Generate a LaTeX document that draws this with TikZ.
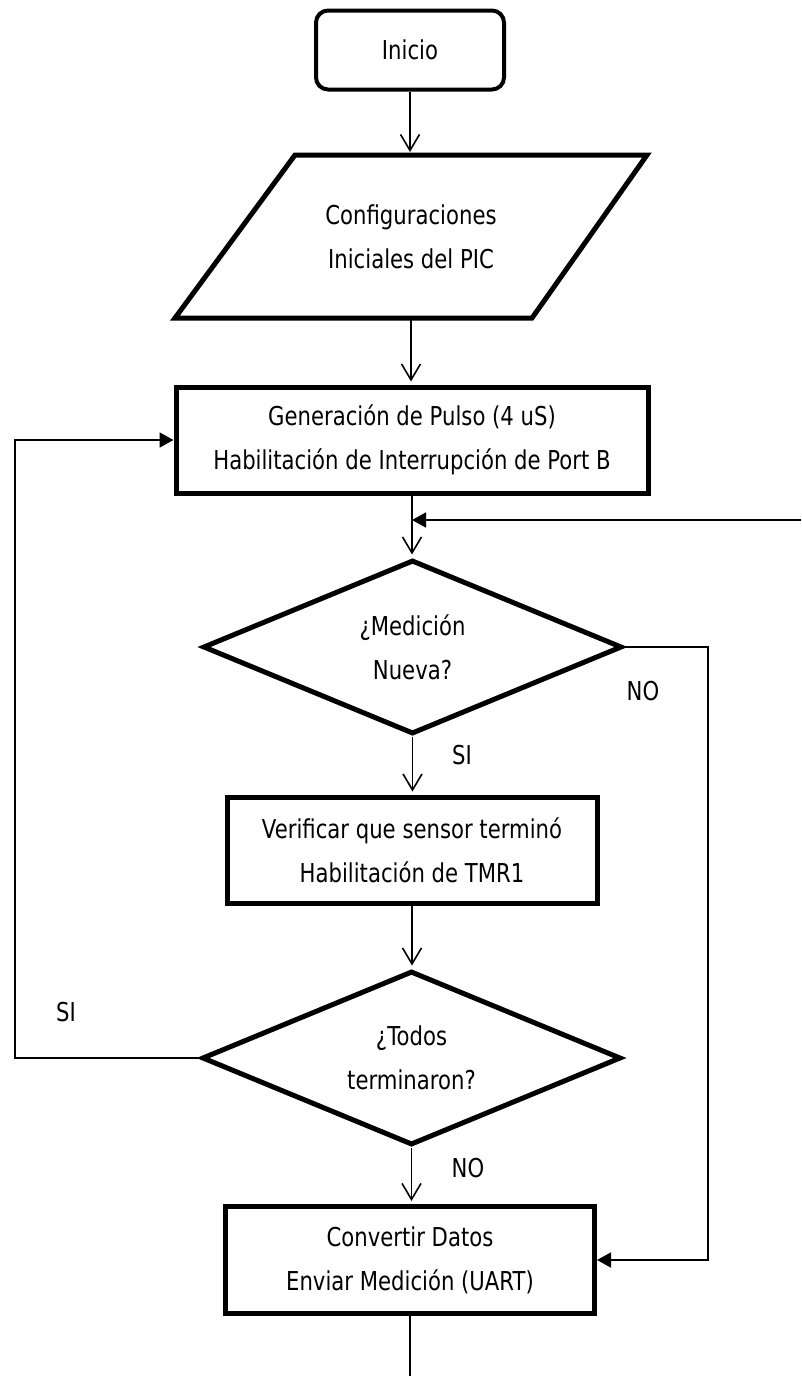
\documentclass[tikz,border=0pt]{standalone}
\usepackage{fontspec}
\setmainfont{DejaVu Sans}[FakeStretch=0.815]
\usetikzlibrary{shapes.geometric,arrows.meta}
\begin{document}
\begin{tikzpicture}[x=1pt,y=-1pt,
  txt/.style={font=\fontsize{26}{44}\selectfont, align=center, inner sep=0pt},
  startbox/.style={txt, draw, line width=4pt, rounded corners=12pt,
    minimum width=188pt, minimum height=79pt},
  procbox/.style={txt, draw, line width=5pt, rectangle, minimum height=106pt},
  ioline/.style={draw, line width=5pt, line join=miter},
  decision/.style={txt, draw, line width=5pt, diamond, aspect=2.4,
    minimum width=419pt, minimum height=174pt},
  flow/.style={line width=1.6pt, -{Straight Barb[length=16pt,width=19pt]}, shorten >=3pt},
  side/.style={line width=1.6pt, -{Triangle[length=14pt,width=15pt]}},
  wire/.style={line width=1.6pt},
  lbl/.style={font=\fontsize{26}{30}\selectfont, inner sep=0pt}]

  \useasboundingbox (0,0) rectangle (801,1376);

  % flowchart blocks
  \node[startbox] (ini) at (410,50) {Inicio};

  % input/output block: slanted outline around its text
  \node[txt] (conf) at (411,236.5) {Configuraciones\\Iniciales del PIC};
  \draw[ioline, shift={(conf.center)}]
    (-236,81.5) -- (-116,-81.5) -- (236,-81.5) -- (121,81.5) -- cycle;
  \coordinate (conftop) at (411,155);
  \coordinate (confbot) at (411,318);

  \node[procbox, minimum width=472pt] (gen) at (412,440)
    {Generación de Pulso (4 uS)\\Habilitación de Interrupción de Port B};
  \node[decision] (med) at (412.5,647) {¿Medición\\Nueva?};
  \node[procbox, minimum width=370pt] (ver) at (412,850)
    {Verificar que sensor terminó\\Habilitación de TMR1};
  \node[decision] (todos) at (411.5,1058) {¿Todos\\terminaron?};
  \node[procbox, minimum width=369pt, minimum height=107pt] (conv) at (410,1260)
    {Convertir Datos\\Enviar Medición (UART)};

  % branch labels
  \node[lbl] (si1) at (462,755) {SI};
  \node[lbl] (no1) at (643,691) {NO};
  \node[lbl] (si2) at (66,1012) {SI};
  \node[lbl] (no2) at (468,1168) {NO};

  % free ends and routing points
  \coordinate (entry) at (801,520);
  \coordinate (exit) at (410,1376);
  \coordinate (loopx) at (15,700);
  \coordinate (rightx) at (708,900);

  % main column
  \draw[flow] (ini.south) -- (ini.south |- conftop);
  \draw[flow] (confbot) -- (confbot |- gen.north);
  \draw[flow] (gen.south) -- (gen.south |- med.north);
  \draw[flow] (med.south) -- (med.south |- ver.north);
  \draw[flow] (ver.south) -- (ver.south |- todos.north);
  \draw[flow] (todos.south) -- (todos.south |- conv.north);
  \draw[wire] (conv.south) -- (exit);

  % side connections
  \draw[side] (entry) -- (gen.south |- entry);
  \draw[side] (todos.west) -| (loopx) |- (gen.west);
  \draw[side] (med.east) -| (rightx) |- (conv.east);
\end{tikzpicture}
\end{document}
